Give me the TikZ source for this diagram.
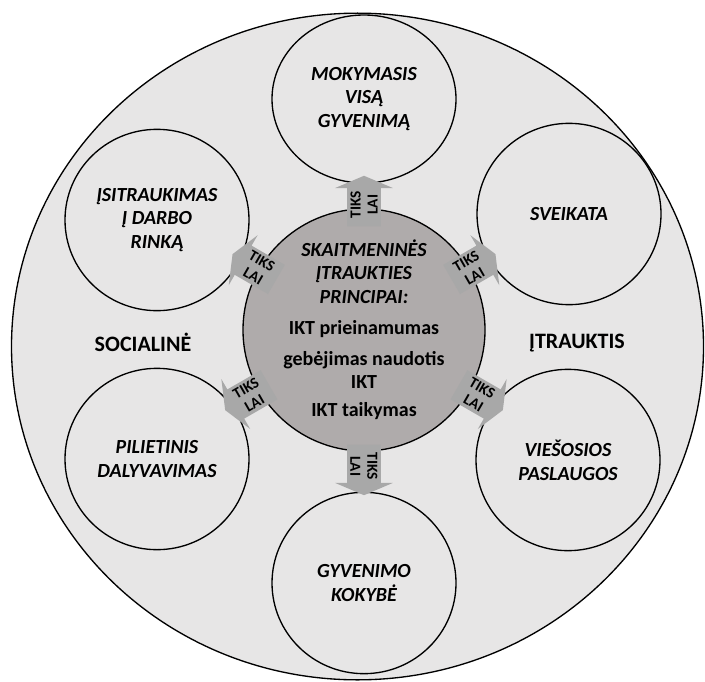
\documentclass[tikz,border=0pt]{standalone}
\usepackage{fontspec}
\setmainfont{Carlito}
\usetikzlibrary{shapes.geometric,shapes.arrows,calc}

\definecolor{ringgray}{RGB}{231,230,230}
\definecolor{coregray}{RGB}{175,171,171}
\definecolor{arrowgray}{RGB}{168,168,168}

\tikzset{
  pillar/.style={ellipse,draw,line width=1pt,fill=ringgray,inner sep=0pt,align=center,
    minimum width=138pt,minimum height=136pt,font=\bfseries\itshape\fontsize{15}{17.8}\selectfont},
  tikslai/.style={single arrow,draw=none,fill=arrowgray,inner xsep=1pt,inner ysep=2.3pt,
    minimum height=38pt,single arrow tip angle=134,single arrow head extend=9pt,
    align=center,font=\bfseries\fontsize{11.5}{12.75}\selectfont},
  sidelabel/.style={font=\bfseries\fontsize{16.5}{18}\selectfont},
}

\begin{document}
\begin{tikzpicture}[x=0.75pt,y=0.75pt,yscale=-1,xscale=1]
\useasboundingbox (0,0) rectangle (705,681);

%Shape: outer ring
\node[ellipse,draw,line width=1pt,fill=ringgray,minimum width=519pt,minimum height=500pt] (ring) at (357.5,346.5) {};

% six areas
\node[pillar,minimum height=126pt] (mok) at (364,99) {MOKYMASIS\\VISĄ\\GYVENIMĄ};
\node[pillar] (darbo) at (157,220) {ĮSITRAUKIMAS\\Į DARBO\\RINKĄ};
\node[pillar] (sveik) at (569,214) {SVEIKATA};
\node[pillar] (pilie) at (157,459) {PILIETINIS\\DALYVAVIMAS};
\node[pillar] (viesos) at (568,460) {VIEŠOSIOS\\PASLAUGOS};
\node[pillar] (gyven) at (364,583) {GYVENIMO\\KOKYBĖ};

% Text Node
\node[sidelabel] (soc) at (143,342) {SOCIALINĖ};
% Text Node
\node[sidelabel] (itr) at (577,343) {ĮTRAUKTIS};

%Shape: core
\node[circle,draw,line width=1pt,fill=coregray,minimum size=181.5pt,inner sep=0pt,align=center,
  font=\bfseries\fontsize{15}{17.3}\selectfont] (core) at (364,330)
  {\textit{SKAITMENINĖS}\\\textit{ĮTRAUKTIES}\\\textit{PRINCIPAI:}\\[6.5pt]
   IKT prieinamumas\\[6pt]gebėjimas naudotis\\IKT\\[3.5pt]IKT taikymas};

% arrows
\node[tikslai,rotate=90] (toMok) at ($(core.center)!1.03!(core.90)$) {TIKS\\LAI};
\node[tikslai,rotate=-30,shape border rotate=180] (toDarbo) at ($(core.center)!1.01!(core.150)$) {TIKS\\LAI};
\node[tikslai,rotate=30] (toSveik) at ($(core.center)!1.01!(core.30)$) {TIKS\\LAI};
\node[tikslai,rotate=30,shape border rotate=180] (toPilie) at ($(core.center)!1.08!(core.210)$) {TIKS\\LAI};
\node[tikslai,rotate=-30] (toViesos) at ($(core.center)!1.08!(core.330)$) {TIKS\\LAI};
\node[tikslai,rotate=-90] (toGyven) at ($(core.center)!1.12!(core.270)$) {TIKS\\LAI};

\end{tikzpicture}
\end{document}
